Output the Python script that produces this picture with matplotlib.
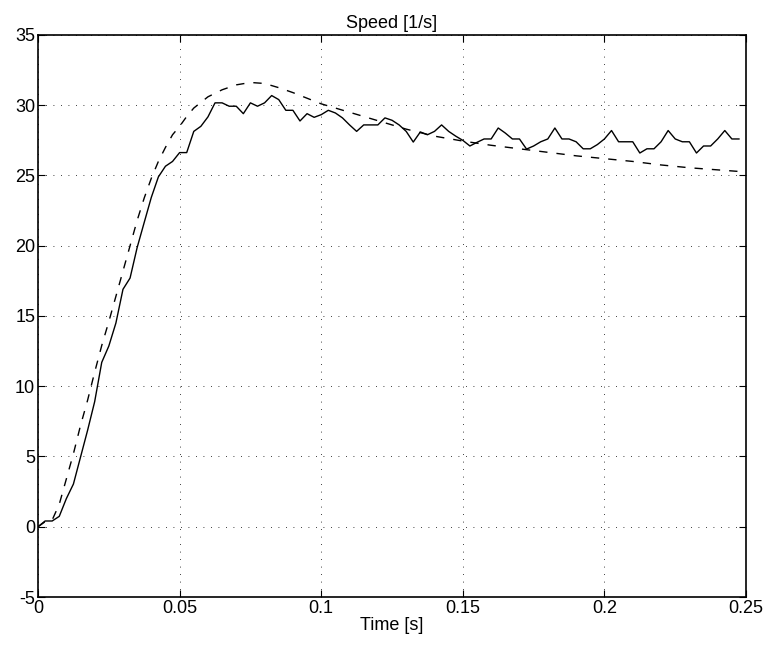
import numpy as np
import matplotlib.pyplot as plt

plt.rcParams['font.family'] = ['Liberation Sans', 'DejaVu Sans']
plt.rcParams['axes.unicode_minus'] = False

# measured speed (solid), sampled every 2.5 ms
dt = 0.0025
speed_meas = [0.0, 0.41, 0.41, 0.74, 2.0, 3.04, 4.95, 6.86, 8.9, 11.7,
              12.86, 14.5, 16.9, 17.7, 19.87, 21.66, 23.44, 24.9, 25.66, 26.0,
              26.63, 26.63, 28.14, 28.5, 29.17, 30.17, 30.17, 29.93, 29.93, 29.4,
              30.17, 29.93, 30.17, 30.69, 30.4, 29.64, 29.64, 28.88, 29.4, 29.14,
              29.33, 29.64, 29.45, 29.1, 28.6, 28.14, 28.6, 28.6, 28.6, 29.1,
              28.93, 28.6, 28.14, 27.38, 28.1, 27.9, 28.14, 28.6, 28.14, 27.8,
              27.5, 27.1, 27.36, 27.6, 27.6, 28.38, 28.02, 27.6, 27.6, 26.88,
              27.1, 27.4, 27.6, 28.38, 27.6, 27.6, 27.4, 26.9, 26.9, 27.2,
              27.6, 28.2, 27.4, 27.4, 27.4, 26.6, 26.9, 26.9, 27.4, 28.2,
              27.6, 27.4, 27.4, 26.6, 27.1, 27.1, 27.6, 28.2, 27.6, 27.6]
t_meas = np.arange(len(speed_meas)) * dt

# model speed (dashed)
t_model = [0, 0.0025, 0.005, 0.0075, 0.01, 0.0125, 0.015, 0.0175, 0.02, 0.0225,
           0.025, 0.0275, 0.03, 0.0325, 0.035, 0.0375, 0.04, 0.0425, 0.045, 0.0475,
           0.05, 0.0525, 0.055, 0.0575, 0.06, 0.065, 0.07, 0.075, 0.08, 0.085,
           0.09, 0.095, 0.1, 0.11, 0.12, 0.13, 0.14, 0.15, 0.16, 0.17,
           0.18, 0.19, 0.2, 0.21, 0.22, 0.23, 0.24, 0.25]
speed_model = [0, 0.36, 0.48, 1.6, 3.4, 5.2, 7.2, 9.0, 11.0, 12.9,
               14.6, 16.4, 18.2, 20.0, 21.8, 23.4, 24.8, 26.0, 27.0, 27.9,
               28.5, 29.2, 29.8, 30.2, 30.6, 31.1, 31.45, 31.62, 31.55, 31.25,
               30.9, 30.5, 30.1, 29.5, 28.9, 28.3, 27.8, 27.45, 27.15, 26.9,
               26.65, 26.4, 26.2, 26.0, 25.75, 25.55, 25.4, 25.25]

xticks = [0, 0.05, 0.1, 0.15, 0.2, 0.25]
xticklabels = ['0', '0.05', '0.1', '0.15', '0.2', '0.25']
yticks = [-5, 0, 5, 10, 15, 20, 25, 30, 35]

fig = plt.figure(figsize=(7.68, 6.48), dpi=100)
ax = fig.add_axes([0.0495, 0.0787, 0.9219, 0.8673])

ax.plot(t_meas, speed_meas, color='black', lw=1.0)
ax.plot(t_model, speed_model, color='black', lw=1.0, ls=(0, (6, 6.5)))

ax.set_xlim(0, 0.25)
ax.set_ylim(-5, 35)
ax.set_xticks(xticks)
ax.set_xticklabels(xticklabels)
ax.set_yticks(yticks)
ax.tick_params(direction='in', length=5, top=True, right=True, labelsize=13, pad=2)
ax.grid(True, color='black', ls=(0, (1, 8)), lw=0.6)
for s in ax.spines.values():
    s.set_linewidth(1.2)

ax.set_title('Speed [1/s]', fontsize=13, pad=5)
ax.set_xlabel('Time [s]', fontsize=13, labelpad=0)

fig.savefig('out.png', dpi=100)
